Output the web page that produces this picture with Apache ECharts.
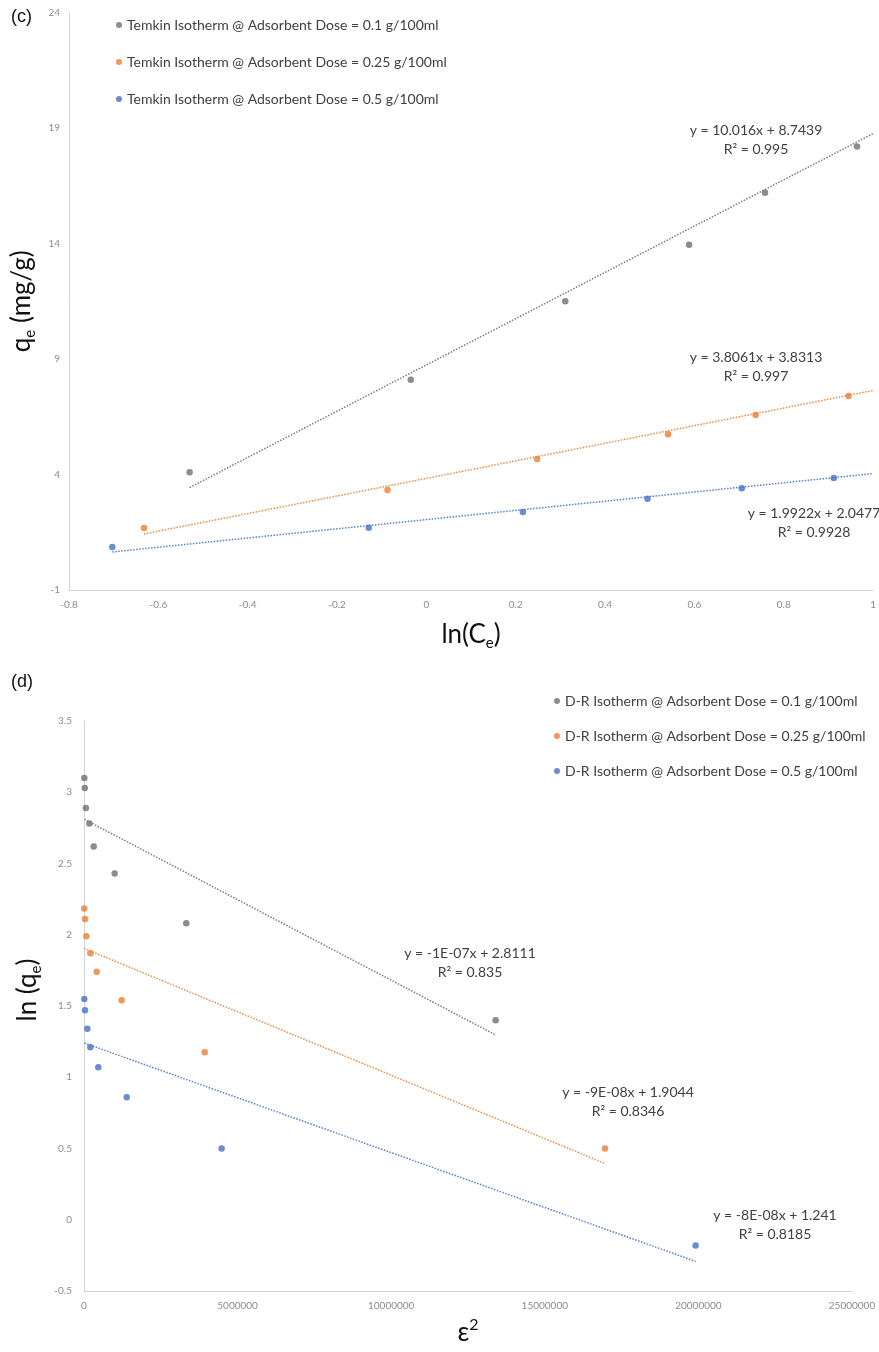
<!DOCTYPE html>
<html>
<head>
<meta charset="utf-8">
<script src="https://cdn.jsdelivr.net/npm/echarts@6/dist/echarts.min.js"></script>
<style>
  html, body { margin: 0; padding: 0; background: #ffffff; }
  #chart { width: 879px; height: 1352px; }
</style>
</head>
<body>
<div id="chart"></div>
<script>
// ---------- (c) Temkin isotherm: qe vs ln(Ce) ----------
const temkinNames = [
  'Temkin Isotherm @ Adsorbent Dose = 0.1 g/100ml',
  'Temkin Isotherm @ Adsorbent Dose = 0.25 g/100ml',
  'Temkin Isotherm @ Adsorbent Dose = 0.5 g/100ml'
];
const temkinLnCe01 = [-0.530, -0.035, 0.311, 0.588, 0.758, 0.964];
const temkinQe01   = [4.10, 8.10, 11.50, 13.95, 16.20, 18.20];
const temkinLnCe025 = [-0.632, -0.087, 0.248, 0.541, 0.737, 0.945];
const temkinQe025   = [1.68, 3.33, 4.67, 5.74, 6.58, 7.40];
const temkinLnCe05 = [-0.703, -0.129, 0.216, 0.495, 0.706, 0.912];
const temkinQe05   = [0.86, 1.70, 2.38, 2.95, 3.40, 3.85];
const temkinSlope     = [10.016, 3.8061, 1.9922];
const temkinIntercept = [8.7439, 3.8313, 2.0477];
const temkinEq = ['y = 10.016x + 8.7439', 'y = 3.8061x + 3.8313', 'y = 1.9922x + 2.0477'];
const temkinR2 = ['R² = 0.995', 'R² = 0.997', 'R² = 0.9928'];

// ---------- (d) D-R isotherm: ln(qe) vs ε² ----------
const drNames = [
  'D-R Isotherm @ Adsorbent Dose = 0.1 g/100ml',
  'D-R Isotherm @ Adsorbent Dose = 0.25 g/100ml',
  'D-R Isotherm @ Adsorbent Dose = 0.5 g/100ml'
];
const drEps01 = [10000, 25000, 60000, 173000, 315000, 998000, 3330000, 13400000];
const drLnQe01 = [3.10, 3.03, 2.89, 2.78, 2.62, 2.43, 2.08, 1.40];
const drEps025 = [5000, 33000, 76000, 206000, 412000, 1225000, 3930000, 16960000];
const drLnQe025 = [2.185, 2.11, 1.99, 1.87, 1.74, 1.54, 1.175, 0.50];
const drEps05 = [11000, 33000, 108000, 206000, 466000, 1390000, 4480000, 19910000];
const drLnQe05 = [1.55, 1.47, 1.34, 1.21, 1.07, 0.86, 0.50, -0.18];
const drSlope     = [-1.13e-7, -8.9e-8, -7.7e-8];
const drIntercept = [2.8111, 1.9044, 1.241];
const drEq = ['y = -1E-07x + 2.8111', 'y = -9E-08x + 1.9044', 'y = -8E-08x + 1.241'];
const drR2 = ['R² = 0.835', 'R² = 0.8346', 'R² = 0.8185'];

// axis ticks
const temkinXTicks = { min: -0.8, max: 1, interval: 0.2 };
const temkinYTicks = { min: -1, max: 24, interval: 5 };
const drXTicks = { min: 0, max: 25000000, interval: 5000000 };
const drYTicks = { min: -0.5, max: 3.5, interval: 0.5 };

const COLORS = ['#6f6f6f', '#ED7D31', '#4472C4'];
const FONT = 'Lato, "Open Sans", sans-serif';
const TEXT = '#404040';

const zip = (xs, ys) => xs.map((x, i) => [x, ys[i]]);

function scatter(name, pts, idx, axis) {
  return {
    type: 'scatter', name, data: pts,
    xAxisIndex: axis, yAxisIndex: axis,
    symbol: 'circle', symbolSize: 6.5,
    itemStyle: { color: COLORS[idx] }, z: 3, silent: true
  };
}
function trend(slope, intercept, x0, x1, idx, axis) {
  return {
    type: 'line', data: [[x0, slope * x0 + intercept], [x1, slope * x1 + intercept]],
    xAxisIndex: axis, yAxisIndex: axis, symbol: 'none', silent: true,
    lineStyle: { color: COLORS[idx], width: 1.5, type: [1.5, 1.5], opacity: 0.9 }, z: 4
  };
}

const temkinSets = [zip(temkinLnCe01, temkinQe01), zip(temkinLnCe025, temkinQe025), zip(temkinLnCe05, temkinQe05)];
const drSets = [zip(drEps01, drLnQe01), zip(drEps025, drLnQe025), zip(drEps05, drLnQe05)];

const series = [];
temkinSets.forEach((pts, i) => {
  series.push(scatter(temkinNames[i], pts, i, 0));
  const xs = pts.map(p => p[0]);
  series.push(trend(temkinSlope[i], temkinIntercept[i], Math.min(...xs), temkinXTicks.max, i, 0));
});
drSets.forEach((pts, i) => {
  series.push(scatter(drNames[i], pts, i, 1));
  const xs = pts.map(p => p[0]);
  series.push(trend(drSlope[i], drIntercept[i], Math.min(...xs), Math.max(...xs), i, 1));
});

const axisLine = { show: true, onZero: false, lineStyle: { color: '#d4d4d4', width: 1 } };
const tickLabel = { color: '#8c8c8c', fontSize: 10, fontFamily: FONT };
const titleRich = {
  m: { fontSize: 26, fontFamily: FONT, color: '#111', lineHeight: 32 },
  s: { fontSize: 15, fontFamily: FONT, color: '#111', lineHeight: 15, verticalAlign: 'bottom' },
  p: { fontSize: 16, fontFamily: FONT, color: '#111', lineHeight: 16, verticalAlign: 'top' },
  g: { fontSize: 26, width: 32, lineHeight: 32 }
};

// equation labels beside each trendline
const eqLabels = [];
const temkinEqPos = [[756, 130], [756, 357], [814, 513]];
const drEqPos = [[470, 953], [628, 1092], [775, 1215]];
function addEq(eq, r2, pos) {
  eqLabels.push({ type: 'text', x: pos[0], y: pos[1], silent: true,
    style: { text: eq, fill: TEXT, font: '14px ' + FONT, textAlign: 'center', textVerticalAlign: 'middle' } });
  eqLabels.push({ type: 'text', x: pos[0], y: pos[1] + 19, silent: true,
    style: { text: r2, fill: TEXT, font: '14px ' + FONT, textAlign: 'center', textVerticalAlign: 'middle' } });
}
temkinEq.forEach((e, i) => addEq(e, temkinR2[i], temkinEqPos[i]));
drEq.forEach((e, i) => addEq(e, drR2[i], drEqPos[i]));

const option = {
  animation: false,
  backgroundColor: '#ffffff',
  grid: [
    { left: 69, right: 5, top: 12.5, height: 577.5 },
    { left: 84, right: 27, top: 721, height: 570 }
  ],
  xAxis: [
    { type: 'value', gridIndex: 0, min: temkinXTicks.min, max: temkinXTicks.max, interval: temkinXTicks.interval,
      axisLine, axisTick: { show: false }, splitLine: { show: false },
      axisLabel: Object.assign({ margin: 10 }, tickLabel),
      name: '{m|ln(C}{s|e}{m|)}', nameLocation: 'middle', nameGap: 29,
      nameTextStyle: { rich: titleRich } },
    { type: 'value', gridIndex: 1, min: drXTicks.min, max: drXTicks.max, interval: drXTicks.interval,
      axisLine, axisTick: { show: false }, splitLine: { show: false },
      axisLabel: Object.assign({ margin: 10, formatter: v => String(v) }, tickLabel),
      name: '{m|ε}{p|2}', nameLocation: 'middle', nameGap: 26,
      nameTextStyle: { rich: titleRich } }
  ],
  yAxis: [
    { type: 'value', gridIndex: 0, min: temkinYTicks.min, max: temkinYTicks.max, interval: temkinYTicks.interval,
      axisLine, axisTick: { show: false }, splitLine: { show: false },
      axisLabel: Object.assign({ margin: 9 }, tickLabel),
      name: '{m|q}{s|e}{m| (mg/g)}', nameLocation: 'middle', nameGap: 16, nameRotate: 90,
      nameTextStyle: { rich: titleRich } },
    { type: 'value', gridIndex: 1, min: drYTicks.min, max: drYTicks.max, interval: drYTicks.interval,
      axisLine, axisTick: { show: false }, splitLine: { show: false },
      axisLabel: Object.assign({ margin: 12 }, tickLabel),
      name: '{g| }{m|ln (q}{s|e}{m|)}', nameLocation: 'middle', nameGap: 31, nameRotate: 90,
      nameTextStyle: { rich: titleRich } }
  ],
  legend: [
    { data: temkinNames, orient: 'vertical', left: 116, top: 17, itemGap: 21, padding: 0,
      icon: 'circle', itemWidth: 6, itemHeight: 6, selectedMode: false,
      textStyle: { color: TEXT, fontSize: 14, fontFamily: FONT, lineHeight: 16 } },
    { data: drNames, orient: 'vertical', left: 554, top: 693, itemGap: 19, padding: 0,
      icon: 'circle', itemWidth: 6, itemHeight: 6, selectedMode: false,
      textStyle: { color: TEXT, fontSize: 14, fontFamily: FONT, lineHeight: 16 } }
  ],
  graphic: [
    { type: 'text', x: 11, y: 17, silent: true,
      style: { text: '(c)', fill: '#111', font: '18px "Liberation Sans", Arial, sans-serif', textVerticalAlign: 'middle' } },
    { type: 'text', x: 11, y: 682, silent: true,
      style: { text: '(d)', fill: '#111', font: '18px "Liberation Sans", Arial, sans-serif', textVerticalAlign: 'middle' } }
  ].concat(eqLabels),
  series
};

const chart = echarts.init(document.getElementById('chart'), null, { renderer: 'canvas' });
chart.setOption(option);
</script>
</body>
</html>
